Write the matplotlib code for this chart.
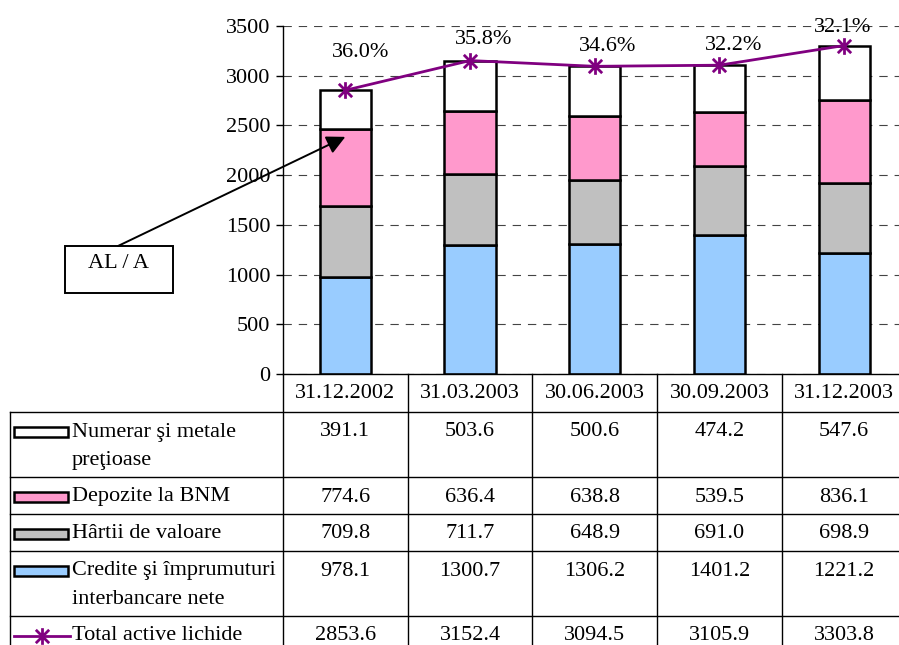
import matplotlib
matplotlib.use('Agg')
import matplotlib.pyplot as plt
from matplotlib.patches import Rectangle
from matplotlib.path import Path
from matplotlib.lines import Line2D

dates = ['31.12.2002', '31.03.2003', '30.06.2003', '30.09.2003', '31.12.2003']
credite = [978.1, 1300.7, 1306.2, 1401.2, 1221.2]
hartii = [709.8, 711.7, 648.9, 691.0, 698.9]
depozite = [774.6, 636.4, 638.8, 539.5, 836.1]
numerar = [391.1, 503.6, 500.6, 474.2, 547.6]
total = [2853.6, 3152.4, 3094.5, 3105.9, 3303.8]
al_a = [36.0, 35.8, 34.6, 32.2, 32.1]

lbl_numerar = ['Numerar şi metale', 'preţioase']
lbl_depozite = ['Depozite la BNM']
lbl_hartii = ['Hârtii de valoare']
lbl_credite = ['Credite şi împrumuturi', 'interbancare nete']
lbl_total = ['Total active lichide']

# style
c_numerar = 'white'
c_depozite = '#FF99CC'
c_hartii = '#C0C0C0'
c_credite = '#99CCFF'
c_line = '#800080'
pct_offsets = [(11, 27), (10, 15), (9, 14), (10, 14), (-1, 13)]  # points

plt.rcParams['font.family'] = ['Liberation Serif', 'DejaVu Serif']
plt.rcParams['font.size'] = 16
plt.rcParams['lines.scale_dashes'] = False

W, H = 899, 645
fig = plt.figure(figsize=(W / 100, H / 100), dpi=100)
ax = fig.add_axes([283 / W, (H - 374) / H, (W - 283) / W, 348 / H])

x = list(range(len(dates)))
bw = 0.41
bottom = [0] * len(x)
for vals, col in [(credite, c_credite), (hartii, c_hartii),
                  (depozite, c_depozite), (numerar, c_numerar)]:
    ax.bar(x, vals, bw, bottom=bottom, color=col, edgecolor='black',
           linewidth=1.8, zorder=2)
    bottom = [b + v for b, v in zip(bottom, vals)]

star = Path([(0, -1), (0, 1), (-0.8, -0.8), (0.8, 0.8), (-0.8, 0.8), (0.8, -0.8)],
            [Path.MOVETO, Path.LINETO] * 3)
ax.plot(x, total, color=c_line, lw=2, marker=star, ms=12, mew=2,
        mec=c_line, zorder=3)
for xi, t, p, off in zip(x, total, al_a, pct_offsets):
    ax.annotate('%.1f%%' % p, (xi, t), xytext=off, textcoords='offset points',
                ha='center', va='center', zorder=4)

ax.set_xlim(-0.5, -0.5 + (W - 283) / 124.7)
ax.set_ylim(0, 3500)
ax.set_yticks(range(0, 3501, 500))
ax.set_xticks([])
ax.tick_params(axis='y', direction='out', length=5, width=1, pad=4)
ax.yaxis.grid(True, linestyle=(0, (6, 5)), color='#444444', lw=0.8)
ax.set_axisbelow(True)
for s in ['top', 'right']:
    ax.spines[s].set_visible(False)
ax.spines['left'].set_linewidth(1)
ax.spines['bottom'].set_linewidth(1)

# annotation box AL / A with arrow to first bar
ax.annotate('', xy=(0, 2385), xycoords='data',
            xytext=(118, H - 246), textcoords='figure pixels',
            arrowprops=dict(arrowstyle='-|>', color='black', lw=1.4,
                            mutation_scale=28, shrinkA=0, shrinkB=0))

# table below the chart, drawn in pixel coordinates
tab = fig.add_axes([0, 0, 1, 1])
tab.set_xlim(0, W)
tab.set_ylim(H, 0)
tab.axis('off')

tab.add_patch(Rectangle((65, 246), 108, 47, fill=False, edgecolor='black', lw=1.4))
tab.text(119, 263, 'AL / A', ha='center', va='center')

edges = [ax.transData.transform((i - 0.5, 0))[0] for i in range(len(x) + 1)]
centers = [ax.transData.transform((i, 0))[0] for i in x]
y0 = H - ax.transData.transform((0, 0))[1]
right = W

rows = [(lbl_numerar, numerar, 'bar', c_numerar),
        (lbl_depozite, depozite, 'bar', c_depozite),
        (lbl_hartii, hartii, 'bar', c_hartii),
        (lbl_credite, credite, 'bar', c_credite),
        (lbl_total, total, 'line', c_line)]

header_h = 38
for cx, d in zip(centers, dates):
    tab.text(cx, y0 + 19, d, ha='center', va='center')

top = y0 + header_h
bottom_y = top
tops = []
for label, vals, kind, col in rows:
    tops.append(bottom_y)
    bottom_y += 9 + 28 * len(label)

for (label, vals, kind, col), t in zip(rows, tops):
    tab.plot([10, right], [t, t], color='black', lw=1)
    cy = t + 20
    if kind == 'bar':
        tab.add_patch(Rectangle((14, cy - 5), 54, 10, facecolor=col,
                                edgecolor='black', lw=1.8))
    else:
        tab.add_line(Line2D([14, 70], [cy, cy], color=col, lw=2))
        tab.plot([42], [cy], marker=star, ms=12, mew=2, mec=col, color=col)
    for k, line in enumerate(label):
        tab.text(72, cy + 28 * k, line, ha='left', va='center')
    for cx, v in zip(centers, vals):
        tab.text(cx, cy, '%.1f' % v, ha='center', va='center')

tab.plot([10, 10], [top, bottom_y], color='black', lw=1)
for ex in edges:
    tab.plot([ex, ex], [y0, bottom_y], color='black', lw=1)

fig.savefig('out.png', dpi=100)
